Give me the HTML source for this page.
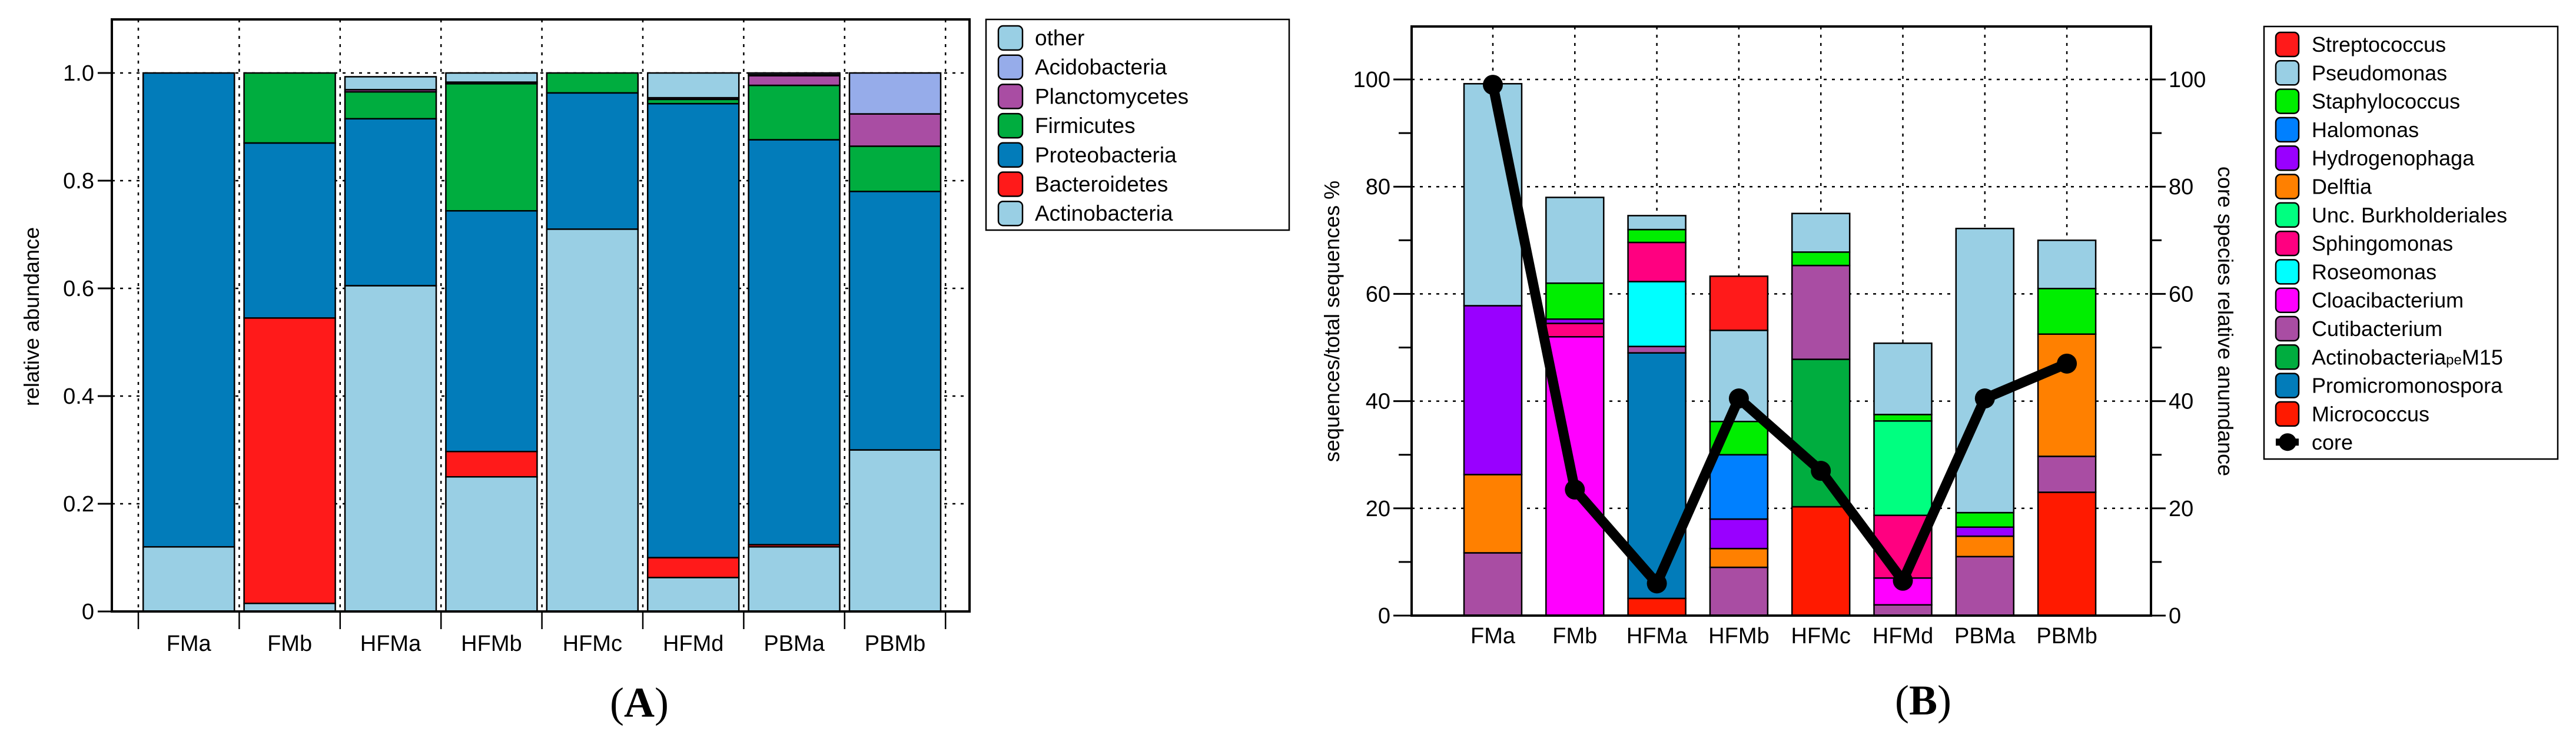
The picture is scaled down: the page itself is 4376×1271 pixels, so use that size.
<!DOCTYPE html>
<html><head><meta charset="utf-8"><style>
html,body{margin:0;padding:0;background:#fff;}
svg{display:block;font-family:"Liberation Sans",sans-serif;}
</style></head><body>
<svg id="fig" width="4376" height="1271" viewBox="0 0 4376 1271" xmlns="http://www.w3.org/2000/svg">
<g id="chartA"></g>
<g id="chartB"></g>
<text x="1086" y="1218" font-family="Liberation Serif,serif" font-size="72" text-anchor="middle">(<tspan font-weight="bold">A</tspan>)</text>
<text x="3267" y="1214" font-family="Liberation Serif,serif" font-size="72" text-anchor="middle">(<tspan font-weight="bold">B</tspan>)</text>
</svg>
<script>
// ---------- Chart A data ----------
const catsA = ["FMa","FMb","HFMa","HFMb","HFMc","HFMd","PBMa","PBMb"];
const seriesNamesA = ["Actinobacteria","Bacteroidetes","Proteobacteria","Firmicutes","Planctomycetes","Acidobacteria","other"];
const actinoA = [0.12,0.015,0.605,0.25,0.71,0.063,0.12,0.30];
const bacterA = [0,0.53,0,0.047,0,0.037,0.004,0];
const proteoA = [0.88,0.325,0.31,0.447,0.253,0.843,0.752,0.48];
const firmiA  = [0,0.13,0.05,0.236,0.037,0.008,0.101,0.084];
const planctA = [0,0,0.004,0.003,0,0.003,0.018,0.06];
const acidoA  = [0,0,0,0,0,0,0.002,0.076];
const otherA  = [0,0,0.024,0.017,0,0.046,0.003,0];
const ticksA = ["0","0.2","0.4","0.6","0.8","1.0"];
const tickValsA = [0,0.2,0.4,0.6,0.8,1.0];

// ---------- Chart B data ----------
const catsB = ["FMa","FMb","HFMa","HFMb","HFMc","HFMd","PBMa","PBMb"];
const micrococcus = [0,0,3.2,0,20.3,0,0,23];
const promicro = [0,0,45.8,0,0,0,0,0];
const actpeM15 = [0,0,0,0,27.5,0,0,0];
const cutibact = [11.7,0,1.2,9,17.5,2,11,6.7];
const cloaci = [0,52,0,0,0,5,0,0];
const roseo = [0,0,12.1,0,0,0,0,0];
const sphingo = [0,2.5,7.3,0,0,11.7,0,0];
const burk = [0,0,0,0,0,17.6,0,0];
const delftia = [14.6,0,0,3.5,0,0,3.8,22.8];
const hydro = [31.5,0.8,0,5.5,0,0,1.7,0];
const halo = [0,0,0,12,0,0,0,0];
const staph = [0,6.7,2.4,6.2,2.5,1.2,2.7,8.5];
const pseudo = [41.4,16,2.6,17,7.2,13.3,53,9];
const strepto = [0,0,0,10.1,0,0,0,0];
const coreB = [99,23.5,6,40.5,27,6.5,40.5,47];
const ticksB = ["0","20","40","60","80","100"];
const tickValsB = [0,20,40,60,80,100];

const NS="http://www.w3.org/2000/svg";
function mk(parent,tag,attrs){const e=document.createElementNS(NS,tag);for(const k in attrs)e.setAttribute(k,attrs[k]);parent.appendChild(e);return e;}

// ================= Chart A =================
(function(){
const g=document.getElementById('chartA');
const L=190,R=1647,T=33,B=1039,y1=124;
const ys=v=>B-(B-y1)*v;
const step=171.4, x0=235;
const xc=i=>x0+step*(i+0.5);
const bw=155;
// grid
for(let i=0;i<=8;i++){const x=x0+step*i;
 const l=mk(g,'line',{x1:x,x2:x,y1:T,y2:B,stroke:'#000','stroke-width':2.5,'stroke-dasharray':'5,9'});
 
 const t=mk(g,'line',{x1:x,x2:x,y1:B,y2:B+30,stroke:'#000','stroke-width':2.5});
 }
tickValsA.forEach((v,i)=>{const y=ys(v);
 if(v>0){const l=mk(g,'line',{x1:L,x2:R,y1:y,y2:y,stroke:'#000','stroke-width':2.5,'stroke-dasharray':'5,9'});
 }
 const t=mk(g,'line',{x1:L-24,x2:L,y1:y,y2:y,stroke:'#000','stroke-width':3});
 
 const tx=mk(g,'text',{x:L-30,y:y+13,'font-size':38,'text-anchor':'end'});tx.textContent=ticksA[i];
 
});
const series=[actinoA,bacterA,proteoA,firmiA,planctA,acidoA,otherA];
const cols=["#99CFE4","#FF1A1A","#027CBA","#00AD3F","#A94DA3","#96ACEA","#99CFE4"];
catsA.forEach((c,i)=>{let base=0;
 series.forEach((s,j)=>{const v=s[i];if(v<=0)return;
  const r=mk(g,'rect',{x:xc(i)-bw/2,y:ys(base+v),width:bw,height:ys(base)-ys(base+v),fill:cols[j],stroke:'#000','stroke-width':2.5});
  
  base+=v;});
 const t=mk(g,'text',{x:xc(i),y:1106,'font-size':38,'text-anchor':'middle'});t.textContent=c;
 
});
const ax=mk(g,'path',{d:`M${L},${T}H${R}V${B}H${L}Z`,fill:'none',stroke:'#000','stroke-width':4});

const yt=mk(g,'text',{x:0,y:0,'font-size':36,'text-anchor':'middle',transform:`translate(66,538) rotate(-90)`});yt.textContent='relative abundance';

// legend
const lg=mk(g,'g',{});
mk(lg,'rect',{x:1675,y:33,width:515,height:358,fill:'#fff',stroke:'#000','stroke-width':2.5});
const legN=["other","Acidobacteria","Planctomycetes","Firmicutes","Proteobacteria","Bacteroidetes","Actinobacteria"];
const legC=["#99CFE4","#96ACEA","#A94DA3","#00AD3F","#027CBA","#FF1A1A","#99CFE4"];
legN.forEach((n,k)=>{const y=64+k*49.7;
 const e=mk(lg,'g',{});
 mk(e,'rect',{x:1696,y:y-20,width:41,height:41,rx:8,fill:legC[k],stroke:'#000','stroke-width':2.5});
 const t=mk(e,'text',{x:1758,y:y+13,'font-size':37});t.textContent=n;});
})();

// ================= Chart B =================
(function(){
const g=document.getElementById('chartB');
const L=2398,R=3654,T=45,B=1046,y100=135;
const ys=v=>B-(B-y100)*v/100;
const step=139.3,x0=2536;
const xc=i=>x0+step*i;
const bw=98;
for(let i=0;i<8;i++){const l=mk(g,'line',{x1:xc(i),x2:xc(i),y1:T,y2:B,stroke:'#000','stroke-width':2.5,'stroke-dasharray':'5,9'});
 }
for(let v=0;v<=110;v+=10){const y=ys(v);const major=v%20===0;
 if(v>100)break;
 const t1=mk(g,'line',{x1:L-(major?31:22),x2:L,y1:y,y2:y,stroke:'#000','stroke-width':3});
 
 const t2=mk(g,'line',{x1:R,x2:R+(major?25:18),y1:y,y2:y,stroke:'#000','stroke-width':3});
 }
tickValsB.forEach((v,i)=>{const y=ys(v);
 if(v>0){const l=mk(g,'line',{x1:L,x2:R,y1:y,y2:y,stroke:'#000','stroke-width':2.5,'stroke-dasharray':'5,9'});
 }
 const a=mk(g,'text',{x:2362,y:y+13,'font-size':38,'text-anchor':'end'});a.textContent=ticksB[i];
 
 const b=mk(g,'text',{x:3684,y:y+13,'font-size':38});b.textContent=ticksB[i];
 
});
const names=["micrococcus","promicromonospora","actinobacteria-pem15","cutibacterium","cloacibacterium","roseomonas","sphingomonas","unc-burkholderiales","delftia","hydrogenophaga","halomonas","staphylococcus","pseudomonas","streptococcus"];
const series=[micrococcus,promicro,actpeM15,cutibact,cloaci,roseo,sphingo,burk,delftia,hydro,halo,staph,pseudo,strepto];
const cols=["#FF1A00","#027CBA","#00AD3F","#A94DA3","#FF00FF","#00FFFF","#FF0080","#00FF80","#FF8000","#9900FF","#0080FF","#00EE00","#99CFE4","#FF1A1A"];
catsB.forEach((c,i)=>{let base=0;
 series.forEach((s,j)=>{const v=s[i];if(v<=0)return;
  const r=mk(g,'rect',{x:xc(i)-bw/2,y:ys(base+v),width:bw,height:ys(base)-ys(base+v),fill:cols[j],stroke:'#000','stroke-width':2.5});
  
  base+=v;});
 const t=mk(g,'text',{x:xc(i),y:1093,'font-size':38,'text-anchor':'middle'});t.textContent=c;
 
});
const pts=coreB.map((v,i)=>xc(i)+','+ys(v)).join(' ');
const pl=mk(g,'polyline',{points:pts,fill:'none',stroke:'#000','stroke-width':17,'stroke-linejoin':'round'});

coreB.forEach((v,i)=>{const m=mk(g,'circle',{cx:xc(i),cy:ys(v),r:17,fill:'#000'});
 });
const ax=mk(g,'path',{d:`M${L},${T}H${R}V${B}H${L}Z`,fill:'none',stroke:'#000','stroke-width':4});

const yt=mk(g,'text',{x:0,y:0,'font-size':36,'text-anchor':'middle',transform:`translate(2275,546) rotate(-90)`});yt.textContent='sequences/total sequences %';

const yt2=mk(g,'text',{x:0,y:0,'font-size':36,'text-anchor':'middle',transform:`translate(3768,546) rotate(90)`});yt2.textContent='core species relative anumdance';

// legend
const lg=mk(g,'g',{});
mk(lg,'rect',{x:3846,y:45,width:499,height:735,fill:'#fff',stroke:'#000','stroke-width':2.5});
const legN=["Streptococcus","Pseudomonas","Staphylococcus","Halomonas","Hydrogenophaga","Delftia","Unc. Burkholderiales","Sphingomonas","Roseomonas","Cloacibacterium","Cutibacterium","ActinobacteriapeM15","Promicromonospora","Micrococcus"];
const legC=["#FF1A1A","#99CFE4","#00EE00","#0080FF","#9900FF","#FF8000","#00FF80","#FF0080","#00FFFF","#FF00FF","#A94DA3","#00AD3F","#027CBA","#FF1A00"];
legN.forEach((n,k)=>{const y=75+k*48.3;
 const e=mk(lg,'g',{});
 mk(e,'rect',{x:3866,y:y-20,width:39,height:41,rx:8,fill:legC[k],stroke:'#000','stroke-width':2.5});
 const t=mk(e,'text',{x:3927,y:y+13,'font-size':36});
 if(n==="ActinobacteriapeM15"){t.innerHTML='Actinobacteria<tspan font-size="24">pe</tspan>M15';}else t.textContent=n;});
const y=75+14*48.3;
const e=mk(lg,'g',{});
mk(e,'line',{x1:3866,x2:3905,y1:y,y2:y,stroke:'#000','stroke-width':12});
mk(e,'circle',{cx:3886,cy:y,r:15,fill:'#000'});
const t=mk(e,'text',{x:3927,y:y+13,'font-size':36});t.textContent='core';
})();
</script>
</body></html>
